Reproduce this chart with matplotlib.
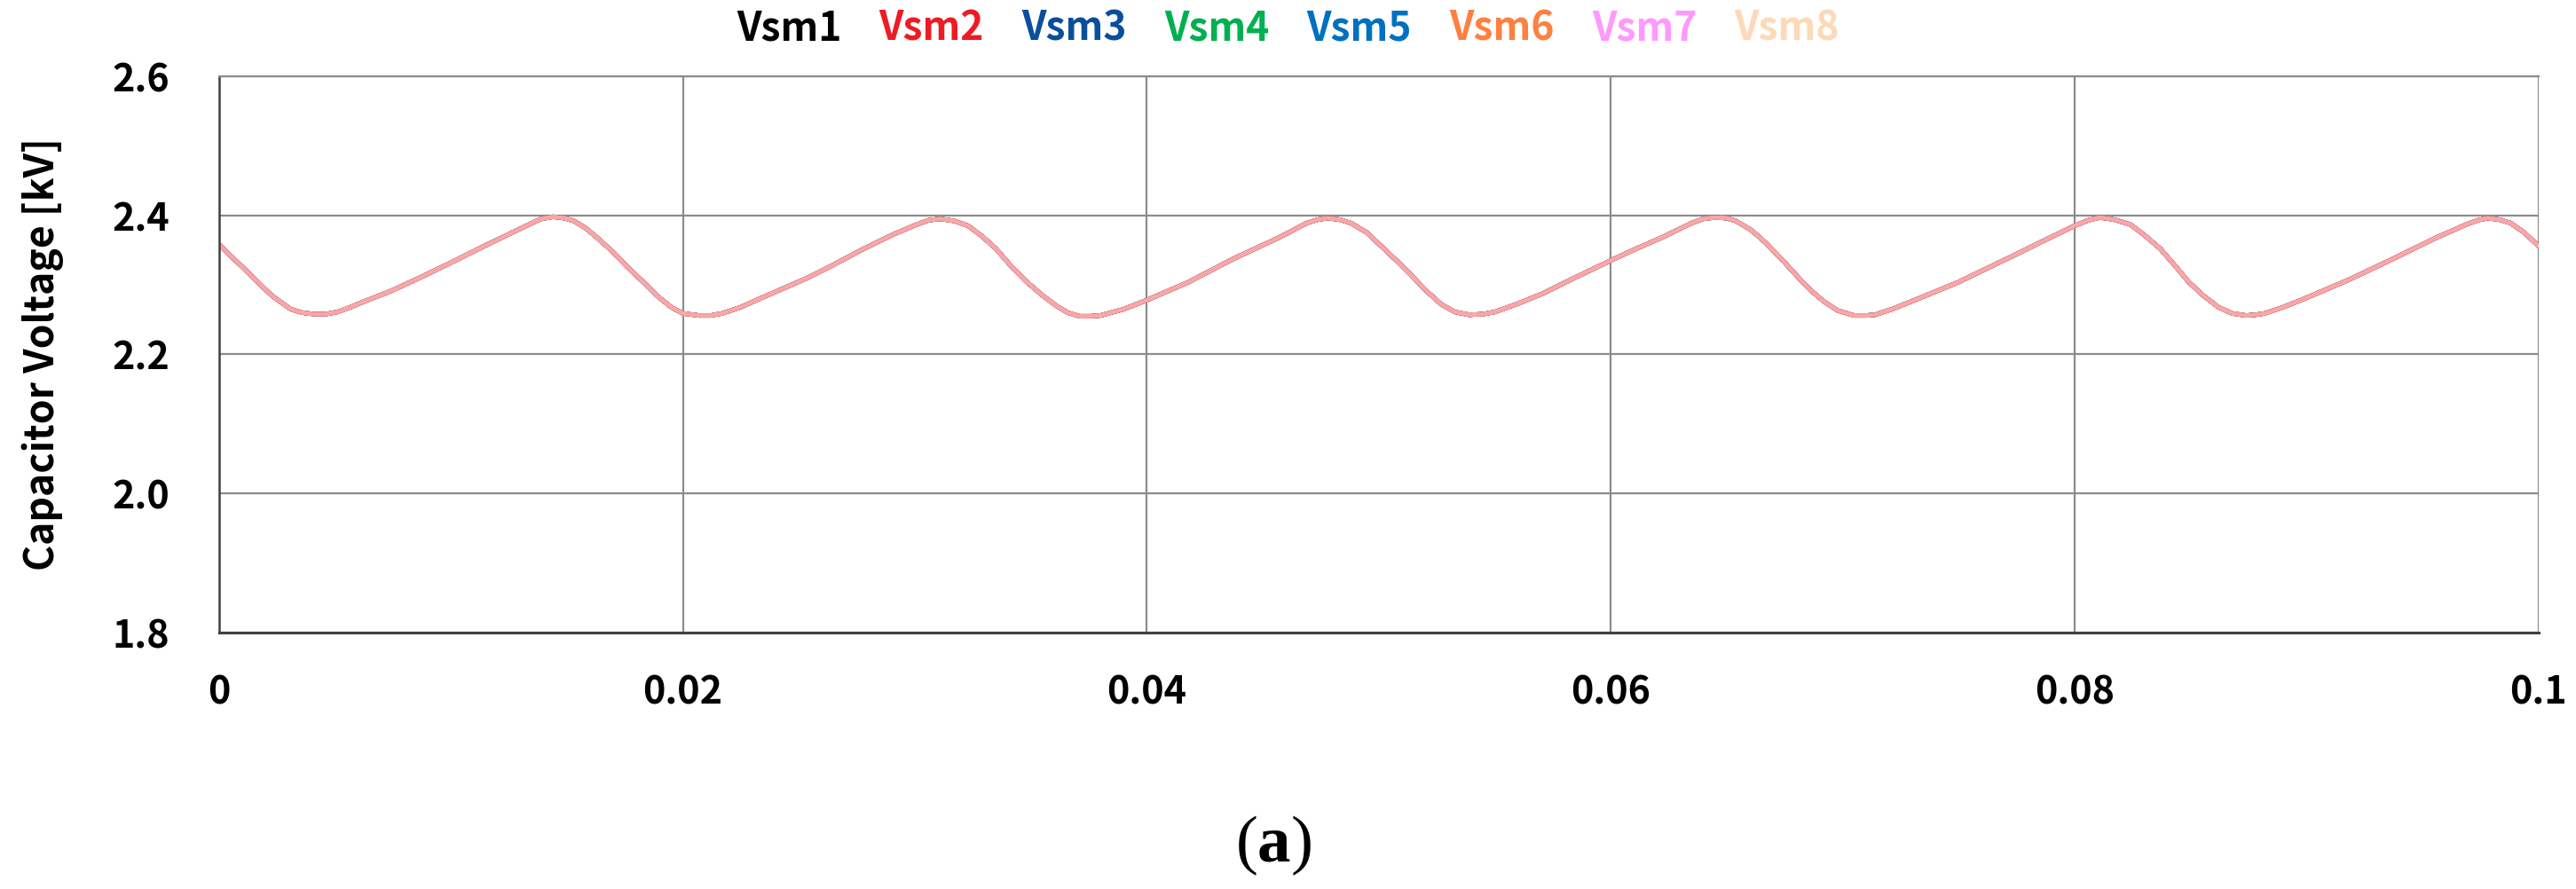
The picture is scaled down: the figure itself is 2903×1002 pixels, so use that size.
import numpy as np
import matplotlib
matplotlib.use('Agg')
from matplotlib import pyplot as plt

# Time axis [s] and capacitor voltage [kV]
# (all eight submodule voltages sit on top of each other)
time_s = [
    0.0000, 0.0010, 0.0018, 0.0023, 0.0031, 0.0036, 0.0041, 0.0046, 0.0051,
    0.0056, 0.0061, 0.0074, 0.0087, 0.0100, 0.0112, 0.0125, 0.0135, 0.0139,
    0.0144, 0.0149, 0.0153, 0.0158, 0.0163, 0.0170, 0.0176, 0.0183, 0.0189,
    0.0195, 0.0200, 0.0207, 0.0212, 0.0217, 0.0225, 0.0233, 0.0253, 0.0265,
    0.0278, 0.0291, 0.0301, 0.0306, 0.0311, 0.0317, 0.0323, 0.0329, 0.0335,
    0.0341, 0.0348, 0.0355, 0.0361, 0.0366, 0.0371, 0.0376, 0.0380, 0.0390,
    0.0400, 0.0418, 0.0437, 0.0457, 0.0469, 0.0474, 0.0478, 0.0483, 0.0488,
    0.0495, 0.0501, 0.0508, 0.0514, 0.0521, 0.0527, 0.0533, 0.0539, 0.0545,
    0.0550, 0.0560, 0.0571, 0.0585, 0.0600, 0.0611, 0.0622, 0.0635, 0.0640,
    0.0645, 0.0650, 0.0654, 0.0661, 0.0667, 0.0674, 0.0680, 0.0686, 0.0692,
    0.0698, 0.0705, 0.0710, 0.0714, 0.0722, 0.0731, 0.0750, 0.0763, 0.0773,
    0.0787, 0.0800, 0.0806, 0.0811, 0.0817, 0.0824, 0.0830, 0.0837, 0.0843,
    0.0849, 0.0855, 0.0862, 0.0868, 0.0874, 0.0878, 0.0882, 0.0890, 0.0899,
    0.0918, 0.0937, 0.0956, 0.0969, 0.0974, 0.0978, 0.0983, 0.0988, 0.0994,
    0.1000,
]
v_cap = [
    2.358, 2.326, 2.300, 2.284, 2.265, 2.260, 2.258, 2.258, 2.261,
    2.267, 2.274, 2.291, 2.311, 2.332, 2.352, 2.373, 2.389, 2.395,
    2.398, 2.396, 2.392, 2.382, 2.368, 2.347, 2.326, 2.304, 2.284,
    2.268, 2.259, 2.256, 2.256, 2.259, 2.268, 2.280, 2.309, 2.329,
    2.352, 2.373, 2.387, 2.393, 2.395, 2.392, 2.385, 2.370, 2.352,
    2.329, 2.305, 2.285, 2.270, 2.260, 2.255, 2.255, 2.256, 2.265,
    2.278, 2.304, 2.337, 2.368, 2.389, 2.394, 2.396, 2.394, 2.389,
    2.375, 2.356, 2.334, 2.314, 2.290, 2.272, 2.261, 2.257, 2.258,
    2.261, 2.273, 2.288, 2.311, 2.335, 2.352, 2.368, 2.389, 2.395,
    2.397, 2.396, 2.392, 2.378, 2.360, 2.336, 2.314, 2.293, 2.276,
    2.263, 2.256, 2.256, 2.257, 2.266, 2.278, 2.304, 2.325, 2.341,
    2.364, 2.385, 2.393, 2.397, 2.394, 2.387, 2.372, 2.352, 2.329,
    2.305, 2.286, 2.268, 2.259, 2.256, 2.257, 2.259, 2.268, 2.280,
    2.307, 2.337, 2.368, 2.387, 2.393, 2.396, 2.394, 2.389, 2.375,
    2.356,
]

series_names = ['Vsm1', 'Vsm2', 'Vsm3', 'Vsm4', 'Vsm5', 'Vsm6', 'Vsm7', 'Vsm8']
series_colors = ['#000000', '#ED1C24', '#0B4F9C', '#00B050',
                 '#0070C0', '#FF8040', '#FF99FF', '#FDD9B8']

x_ticks = [0, 0.02, 0.04, 0.06, 0.08, 0.1]
x_ticklabels = ['0', '0.02', '0.04', '0.06', '0.08', '0.1']
y_ticks = [1.8, 2.0, 2.2, 2.4, 2.6]

plt.rcParams['font.family'] = ['Noto Sans CJK KR', 'DejaVu Sans']
plt.rcParams['mathtext.fontset'] = 'custom'
plt.rcParams['mathtext.rm'] = 'Liberation Serif'
plt.rcParams['mathtext.bf'] = 'Liberation Serif:bold'

fig = plt.figure(figsize=(29.03, 10.02), dpi=100)
ax = fig.add_axes([0.0850, 0.2884, 0.9004, 0.6258])

# draw order: hidden series first, then red / pink / peach which give the salmon tone
order = [0, 2, 3, 4, 5, 1, 6, 7]
alphas = {1: 1.0, 6: 0.5, 7: 0.6}
lines = {}
for i in order:
    ln, = ax.plot(time_s, v_cap, color=series_colors[i], lw=3.5,
                  alpha=alphas.get(i, 1.0), label=series_names[i],
                  solid_joinstyle='round', solid_capstyle='round')
    lines[i] = ln

ax.set_xlim(0, 0.1)
ax.set_ylim(1.8, 2.6)
ax.set_xticks(x_ticks)
ax.set_xticklabels(x_ticklabels)
ax.set_yticks(y_ticks)
ax.set_yticklabels(['%.1f' % v for v in y_ticks])
ax.tick_params(axis='both', length=0, labelsize=31)
ax.tick_params(axis='x', pad=33)
ax.tick_params(axis='y', pad=40)
for lab in ax.get_xticklabels() + ax.get_yticklabels():
    lab.set_fontweight('bold')

ax.grid(True, color='#8C8C8C', lw=1.6)
ax.set_axisbelow(True)
ax.spines['right'].set_visible(False)
ax.spines['top'].set_color('#8C8C8C')
ax.spines['top'].set_linewidth(1.6)
ax.spines['left'].set_color('#404040')
ax.spines['left'].set_linewidth(1.8)
ax.spines['bottom'].set_color('#404040')
ax.spines['bottom'].set_linewidth(2.2)

ax.set_ylabel('Capacitor Voltage [kV]', fontsize=32, fontweight='bold')
ax.yaxis.set_label_coords(-0.067, 0.5)

# legend: coloured text only
leg = fig.legend([lines[i] for i in range(8)], series_names, loc='center',
                 bbox_to_anchor=(0.5, 0.968), ncol=8, frameon=False,
                 handlelength=0, handletextpad=0, columnspacing=0.95,
                 prop={'size': 32, 'weight': 'bold'})
for txt, col in zip(leg.get_texts(), series_colors):
    txt.set_color(col)
for h in leg.legend_handles:
    h.set_visible(False)

fig.text(0.4945, 0.049, r'($\mathbf{a}$)', ha='center', va='center',
         fontsize=54, family='Liberation Serif')

fig.savefig('out.png', dpi=100)
